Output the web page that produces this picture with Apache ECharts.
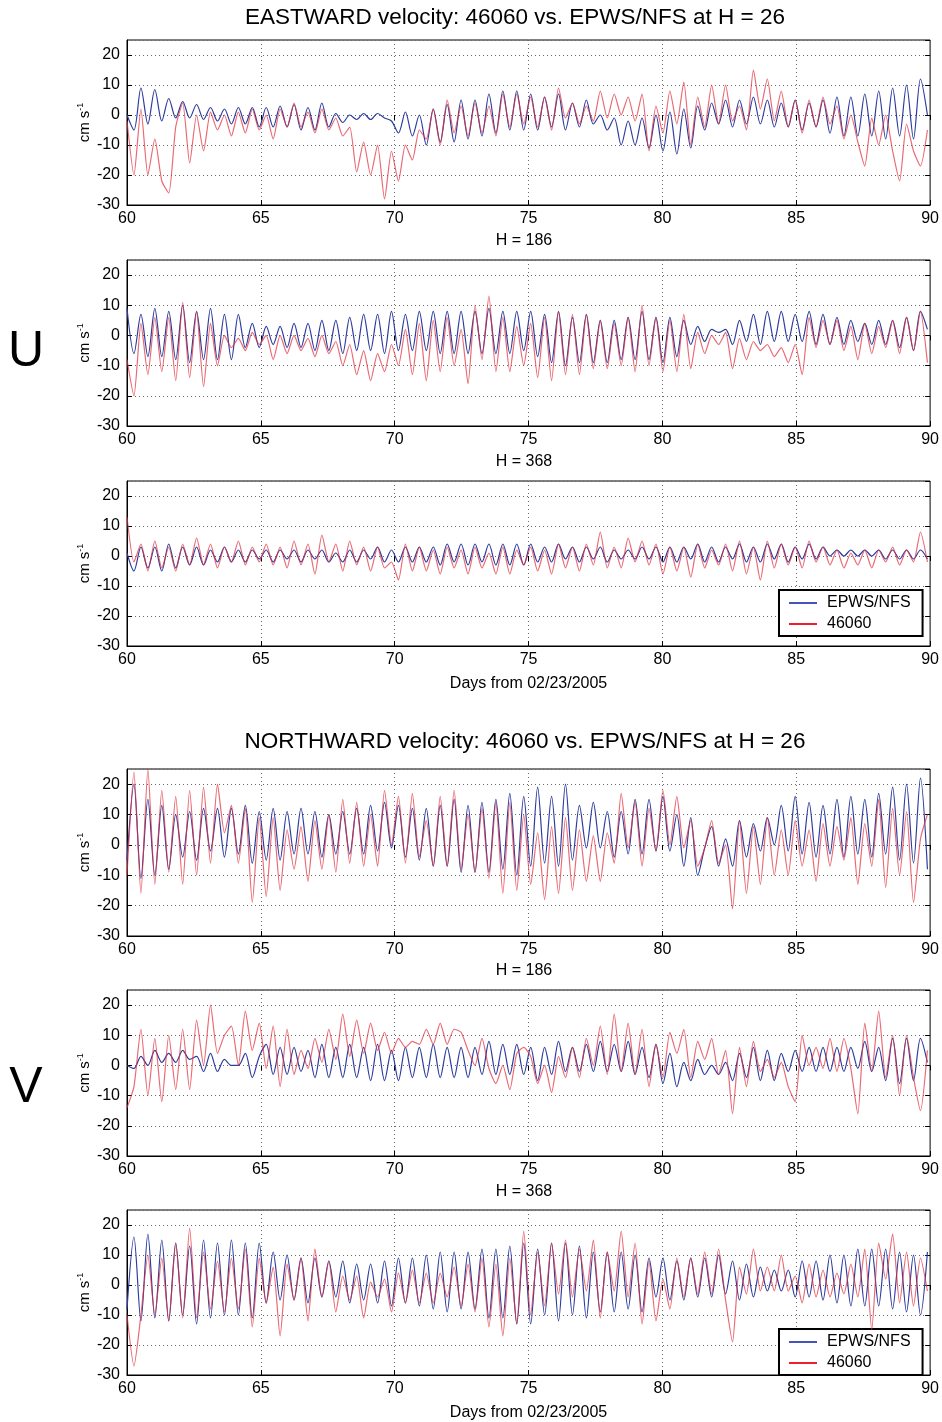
<!DOCTYPE html>
<html>
<head>
<meta charset="utf-8">
<title>46060 vs. EPWS/NFS velocity</title>
<script src="https://cdn.jsdelivr.net/npm/echarts@6/dist/echarts.min.js"></script>
<style>
  html, body { margin: 0; padding: 0; background: #fff; }
  #chart { width: 942px; height: 1422px; }
</style>
</head>
<body>
<div id="chart"></div>
<script>
// Sampling of every record: one value per tidal half-cycle, starting at day 60
const DAY_START = 60;
const DAY_STEP = 0.26;

// Axis settings
const DAY_MIN = 60, DAY_MAX = 90, DAY_TICK = 5;
const VEL_MIN = -30, VEL_MAX = 25, VEL_TICK = 10;

// Series names
const MODEL_NAME = 'EPWS/NFS';
const BUOY_NAME = '46060';

// ---- Eastward velocity (cm/s) ----
const eastModelH26 = [
  0, -5, 9, -3, 8.5, -2, 5.5, -1, 4.5, -1, 3.5, -1.5, 2.5, -2, 2, -3, 2.5, -3, 2.5, -4,
  2.5, -4, 3, -4, 3.5, -5, 2.5, -5, 4, -4, 0.5, -2.5, 0, -1.5, 0.5, -1.5, 0.5, -1, -2, -6,
  1, -7, 0, -10, 2, -9, 3.5, -9, 5, -8, 5, -7, 7, -6, 8, -5, 8, -5,
  7, -5, 6, -4, 7, -5, 4, -4, 5, -3, 0, -5, -1, -10, -2, -10, -1, -11, 0, -12,
  1, -13, 2, -11, 3, -5, 4, -3, 5, -4, 5, -3, 6, -3, 5, -4, 4, -4, 5, -5,
  4, -4, 5, -6, 6, -7, 6, -7, 7, -7, 8, -8, 9, -7, 10, -8, 12, 0
];
const eastBuoyH26 = [
  -2, -20, 2, -20, -8, -22, -26, -4, 4, -16, 0, -12, 1, -5, 0, -7, 1, -6, 2, -5,
  0, -8, 2, -4, 4, -4, 1, -6, 2, -5, -1, -7, -4, -19, -9, -20, -10, -28, -12, -22,
  -10, -15, -5, -8, 2, -10, 5, -6, 3, -7, 4, -6, 3, -7, 7, -4, 7, -3,
  6, -4, 6, -5, 9, -1, 4, -3, 3, -2, 8, -1, 7, 0, 6, -2, 7, -12, 3, -6,
  8, -3, 11, -10, 6, -4, 10, -3, 10, -2, 3, -5, 15, 2, 12, -2, 8, -4, 5, -6,
  5, -4, 6, -3, 3, -8, 0, -9, -17, -1, -10, 0, -12, -22, -3, -12, -17, -5
];
const eastModelH186 = [
  9, -6, 7, -7, 9, -7, 8, -8, 10, -9, 8, -8, 9, -8, 7, -8, 7, -4, 4, -4,
  3, -3, 3, -4, 4, -4, 4, -5, 5, -5, 5, -6, 6, -5, 7, -5, 7, -6, 8, -5,
  7, -5, 8, -5, 8, -6, 8, -6, 8, -6, 8, -6, 9, -6, 8, -6, 8, -5,
  8, -7, 7, -9, 8, -10, 6, -9, 7, -9, 5, -9, 5, -8, 6, -8, 8, -8, 6, -9,
  6, -7, 5, -3, 3, -2, 2, 1, 2, -3, 5, -2, 7, -3, 8, -2, 8, -2, 7, -2,
  8, -3, 7, -3, 6, -3, 5, -2, 4, -3, 5, -3, 5, -4, 6, -5, 8, 2
];
const eastBuoyH186 = [
  -8, -20, 4, -13, 6, -12, 6, -15, 11, -14, 8, -17, 4, -10, 0, -4, -1, -5, 1, -3,
  0, -8, 0, -6, 0, -5, -1, -7, 0, -6, -2, -10, -3, -13, -5, -15, -6, -12, -3, -10,
  2, -13, 4, -15, 5, -12, 6, -10, 2, -16, 10, -8, 13, -12, 6, -12, 3, -10,
  4, -14, 6, -15, 8, -13, 7, -13, 7, -11, 5, -11, 4, -10, 6, -12, 10, -10, 6, -12,
  5, -12, 7, -11, 1, -6, 0, -3, 1, -11, -1, -8, -2, -5, -3, -7, -4, -9, -3, -13,
  6, -4, 5, -3, 5, -5, 3, -8, 4, -6, 3, -4, 5, -6, 6, -5, 8, -9
];
const eastModelH368 = [
  1, -5, 3, -4, 3, -5, 4, -4, 3, -3, 3, -3, 2, -2, 3, -2, 2, -2, 2, -1,
  2, -2, 2, -1, 2, -2, 2, -1, 2, -2, 1, -2, 2, -2, 2, -1, 3, -2, 2, -2,
  3, -2, 3, -2, 3, -3, 4, -2, 4, -3, 4, -2, 4, -3, 4, -3, 4, -3,
  4, -2, 3, -2, 4, -1, 3, -2, 3, -1, 3, -2, 2, -1, 2, -1, 3, -1, 3, -2,
  3, -2, 3, -1, 4, -2, 3, -2, 3, -1, 4, -2, 3, -2, 4, -1, 4, -2, 3, -1,
  4, -1, 3, 0, 2, 0, 2, 0, 2, 0, 2, -1, 2, -1, 2, -1, 2, -1
];
const eastBuoyH368 = [
  13, -2, 4, -5, 5, -4, 3, -5, 4, -3, 6, -3, 4, -4, 3, -2, 5, -3, 3, -2,
  4, -3, 3, -4, 5, -3, 4, -6, 7, -2, 4, -5, 5, -3, 3, -5, 3, -4, -2, -8,
  4, -5, 3, -5, 2, -6, 3, -4, 2, -6, 3, -4, 1, -6, 3, -6, 2, -3,
  3, -5, 2, -6, 4, -4, 3, -5, 4, -3, 8, -4, 3, -4, 6, -2, 5, -3, 4, -6,
  3, -5, 3, -7, 4, -4, 2, -3, 4, -5, 5, -6, 3, -8, 5, -4, 4, -3, 3, -4,
  5, -2, 3, -3, 2, -4, 1, -3, 2, -4, 2, -2, 3, -3, 2, -2, 8, -2
];

// ---- Northward velocity (cm/s) ----
const northModelH26 = [
  -5, 20, -11, 15, -10, 13, -8, 10, -4, 11, -5, 12, -2, 12, -4, 12, -3, 13, -6, 11,
  -5, 12, -5, 11, -3, 12, -3, 11, -4, 10, -3, 11, -3, 12, -3, 13, -2, 14, -1, 13,
  -4, 12, -5, 12, -7, 13, -7, 15, -9, 13, -9, 14, -9, 15, -8, 17, -10, 16,
  -7, 19, -6, 16, -7, 20, -5, 13, -1, 14, -1, 11, -4, 11, -3, 15, -3, 15, -2, 16,
  -2, 10, -7, 9, -10, -1, 6, -7, 2, -7, 8, -4, 7, -2, 9, 0, 13, -2, 16, -3,
  14, -4, 13, -3, 15, -4, 16, -3, 15, -4, 17, -3, 19, -5, 20, -6, 22, -8
];
const northBuoyH26 = [
  -10, 24, -16, 25, -13, 18, -9, 16, -13, 18, -10, 19, -6, 20, 4, 13, -6, 12, -19, 9,
  -17, 9, -15, 5, -8, 6, -12, 8, -8, 10, -9, 15, -6, 14, -7, 10, -7, 18, 0, 16,
  -6, 17, -4, 8, -7, 16, -7, 18, -8, 10, -9, 12, -11, 14, -16, 14, -15, 10,
  -13, 4, -18, 6, -16, 9, -15, 5, -12, 3, -12, 4, -6, 17, -1, 14, -7, 12, -2, 18,
  0, 16, -1, 8, -7, -1, 8, -6, 0, -21, 8, -16, 6, -13, 9, -10, 5, -10, 8, -7,
  5, -12, 7, -7, 6, -5, 9, -13, 7, -7, 15, -14, 12, -10, 11, -19, 2, 10
];
const northModelH186 = [
  0, -1, 3, 0, 5, 1, 4, 1, 5, 2, 3, -2, 4, -2, 2, 0, 0, 4, -4, 3,
  7, -3, 6, -3, 6, -2, 5, -4, 7, -4, 6, -4, 7, -4, 6, -5, 7, -5, 5, -5,
  6, -4, 6, -4, 7, -4, 6, -4, 6, -4, 6, -3, 8, -3, 7, -3, 7, -3,
  6, -5, 6, -3, 8, -2, 6, -2, 7, -2, 8, -2, 7, -2, 8, -3, 6, -4, 7, -6,
  4, -7, 1, -5, 2, -3, 0, -3, 1, -5, 4, -4, 6, -5, 5, -5, 4, -2, 5, -2,
  6, -2, 6, -2, 6, -2, 6, -1, 8, -2, 6, -5, 9, -6, 9, -5, 9, 1
];
const northBuoyH186 = [
  -14, -7, 12, -10, 9, -12, 10, -8, 12, -8, 15, 0, 20, 4, 10, 13, 0, 18, 5, 14,
  -1, 13, -7, 12, -3, 5, -1, 9, 1, 12, 2, 17, 3, 15, 4, 14, 5, 11, 4, 9,
  6, 8, 7, 12, 7, 14, 7, 12, 11, 5, 0, 9, -1, -6, 0, -8, 4, 6,
  3, -6, 0, -9, 3, -4, 6, -4, 9, 0, 13, -3, 17, -2, 14, -3, 12, -7, 7, -4,
  11, 4, 12, -4, 8, 2, 9, -3, 5, -16, 6, -7, 8, -2, 2, -4, 1, -7, -12, 10,
  0, 6, -1, 9, -2, 9, -1, -16, 14, -2, 18, -4, 10, -10, 10, -4, -15, 5
];
const northModelH368 = [
  -8, 16, -12, 17, -11, 15, -12, 14, -10, 13, -13, 15, -11, 14, -10, 15, -10, 14, -11, 14,
  -6, 11, -5, 10, -5, 9, -6, 9, -4, 8, -4, 8, -6, 7, -5, 7, -6, 8, -7, 9,
  -6, 9, -7, 10, -8, 11, -9, 11, -8, 11, -8, 12, -11, 12, -11, 13, -13, 14,
  -13, 12, -10, 14, -12, 14, -10, 13, -11, 11, -9, 11, -9, 11, -8, 10, -9, 9, -4, 9,
  -5, 8, -5, 9, -4, 9, -4, 10, -3, 8, -5, 7, -4, 6, -2, 5, -2, 5, -4, 8,
  -4, 8, -5, 10, -6, 10, -7, 12, -7, 12, -7, 12, -8, 11, -9, 10, -10, 11
];
const northBuoyH368 = [
  -10, -27, -10, 10, -10, 9, -12, 14, -11, 19, -11, 11, -8, 8, -9, 9, -8, 12, -14, 9,
  -6, 6, -17, 7, -5, 9, -12, 12, -4, 8, -9, 3, -5, 3, -11, 1, -4, 2, -9, 4,
  -6, 5, -6, 4, -6, 4, -4, 6, -7, 7, -9, 9, -14, 7, -17, 9, -13, 18,
  -10, 11, -7, 14, -3, 15, -4, 12, -2, 15, -11, 11, -2, 18, -4, 14, -13, 8, -12, 2,
  -8, 9, -4, 9, -3, 11, -3, 12, -5, -19, 6, -3, 12, -2, 6, -2, 10, -2, 3, -6,
  7, -4, 5, -4, 4, -3, 7, -4, 12, -15, 14, 2, 17, -6, 11, -7, 9, -2
];

// Text
const EAST_TITLE = 'EASTWARD velocity: 46060 vs. EPWS/NFS at H = 26';
const NORTH_TITLE = 'NORTHWARD velocity: 46060 vs. EPWS/NFS at H = 26';
const DEPTH_LABELS = ['H = 186', 'H = 368'];
const X_NAME = 'Days from 02/23/2005';

const FONT = '"Liberation Sans", Arial, Helvetica, sans-serif';
const MODEL_COLOR = '#2e3c9e';
const BUOY_COLOR = '#e0303e';

function toPoints(values) {
  return values.map((v, i) => [DAY_START + i * DAY_STEP, v]);
}

// Layout of the six stacked panels
const panels = [
  { top: 40,   height: 165, model: eastModelH26,   buoy: eastBuoyH26 },
  { top: 260,  height: 166, model: eastModelH186,  buoy: eastBuoyH186 },
  { top: 481,  height: 165, model: eastModelH368,  buoy: eastBuoyH368, xName: true },
  { top: 769,  height: 167, model: northModelH26,  buoy: northBuoyH26 },
  { top: 990,  height: 166, model: northModelH186, buoy: northBuoyH186 },
  { top: 1210, height: 166, model: northModelH368, buoy: northBuoyH368, xName: true }
];

const grids = [], xAxes = [], yAxes = [], series = [];
const black = '#000';
const dotted = { type: [1, 3], color: '#6a6a6a', width: 1 };

panels.forEach((p, k) => {
  grids.push({
    left: 127, width: 805, top: p.top, height: p.height,
    show: true, borderColor: black, borderWidth: 1, backgroundColor: '#fff'
  });
  // bottom axis with labels and grid lines
  xAxes.push({
    gridIndex: k, type: 'value', position: 'bottom',
    min: DAY_MIN, max: DAY_MAX, interval: DAY_TICK,
    axisLine: { show: true, onZero: false, lineStyle: { color: black, width: 1 } },
    axisTick: { show: true, inside: true, length: 5, lineStyle: { color: black } },
    axisLabel: { color: black, fontSize: 16, fontFamily: FONT, margin: 6 },
    splitLine: { show: true, lineStyle: dotted },
    name: p.xName ? X_NAME : '',
    nameLocation: 'middle', nameGap: 30, nameMoveOverlap: false,
    nameTextStyle: { color: black, fontSize: 16, fontFamily: FONT }
  });
  // top axis: ticks only
  xAxes.push({
    gridIndex: k, type: 'value', position: 'top',
    min: DAY_MIN, max: DAY_MAX, interval: DAY_TICK,
    axisLine: { show: false },
    axisTick: { show: true, inside: true, length: 5, lineStyle: { color: black } },
    axisLabel: { show: false }, splitLine: { show: false }
  });
  yAxes.push({
    gridIndex: k, type: 'value', position: 'left',
    min: VEL_MIN, max: VEL_MAX, interval: VEL_TICK,
    axisLine: { show: true, onZero: false, lineStyle: { color: black, width: 1 } },
    axisTick: { show: true, inside: true, length: 5, lineStyle: { color: black } },
    axisLabel: {
      color: black, fontSize: 16, fontFamily: FONT, margin: 7, showMaxLabel: false,
      formatter: v => (v > 20 ? '' : String(v))
    },
    splitLine: { show: true, lineStyle: dotted },
    name: '{a|cm s}{b|-1}',
    nameLocation: 'middle', nameRotate: 90, nameGap: 33, nameMoveOverlap: false,
    nameTextStyle: {
      color: black, fontFamily: FONT,
      rich: {
        a: { fontSize: 15, fontFamily: FONT, color: black, lineHeight: 18 },
        b: { fontSize: 9, fontFamily: FONT, color: black, verticalAlign: 'top', lineHeight: 18 }
      }
    }
  });
  yAxes.push({
    gridIndex: k, type: 'value', position: 'right',
    min: VEL_MIN, max: VEL_MAX, interval: VEL_TICK,
    axisLine: { show: false },
    axisTick: { show: true, inside: true, length: 5, lineStyle: { color: black } },
    axisLabel: { show: false }, splitLine: { show: false }
  });
  series.push({
    name: MODEL_NAME, type: 'line', xAxisIndex: 2 * k, yAxisIndex: 2 * k,
    data: toPoints(p.model), symbol: 'none', showSymbol: false, smooth: 0.3,
    lineStyle: { color: MODEL_COLOR, width: 1.2 }, itemStyle: { color: MODEL_COLOR },
    z: 3
  });
  series.push({
    name: BUOY_NAME, type: 'line', xAxisIndex: 2 * k, yAxisIndex: 2 * k,
    data: toPoints(p.buoy), symbol: 'none', showSymbol: false, smooth: 0.2,
    lineStyle: { color: BUOY_COLOR, width: 1.2, opacity: 0.72 }, itemStyle: { color: BUOY_COLOR },
    z: 4
  });
});

function legendAt(top) {
  return {
    data: [
      { name: MODEL_NAME, icon: 'rect', itemStyle: { color: '#4454b8' } },
      { name: BUOY_NAME, icon: 'rect', itemStyle: { color: '#ee2030' } }
    ],
    orient: 'vertical', left: 779, top: top,
    backgroundColor: '#fff', borderColor: black, borderWidth: 2, borderRadius: 0,
    padding: [5, 12, 4, 10], itemGap: 5, itemWidth: 28, itemHeight: 2,
    textStyle: { color: black, fontSize: 16, fontFamily: FONT, padding: [0, 0, 0, 5], lineHeight: 16 },
    selectedMode: false
  };
}

function text(x, y, str, size) {
  return {
    type: 'text', x: x, y: y, z: 10,
    style: {
      text: str, fill: black, font: size + 'px ' + FONT,
      textAlign: 'center', textVerticalAlign: 'middle'
    }
  };
}

const chart = echarts.init(document.getElementById('chart'), null, { renderer: 'canvas' });
chart.setOption({
  animation: false,
  backgroundColor: '#fff',
  grid: grids,
  xAxis: xAxes,
  yAxis: yAxes,
  series: series,
  legend: [legendAt(590), legendAt(1329)],
  graphic: [
    text(515, 18, EAST_TITLE, 22.5),
    text(524, 241, DEPTH_LABELS[0], 16),
    text(524, 462, DEPTH_LABELS[1], 16),
    text(525, 742, NORTH_TITLE, 22.5),
    text(524, 971, DEPTH_LABELS[0], 16),
    text(524, 1192, DEPTH_LABELS[1], 16),
    text(26, 352, 'U', 50),
    text(26, 1088, 'V', 50)
  ]
});
</script>
</body>
</html>
